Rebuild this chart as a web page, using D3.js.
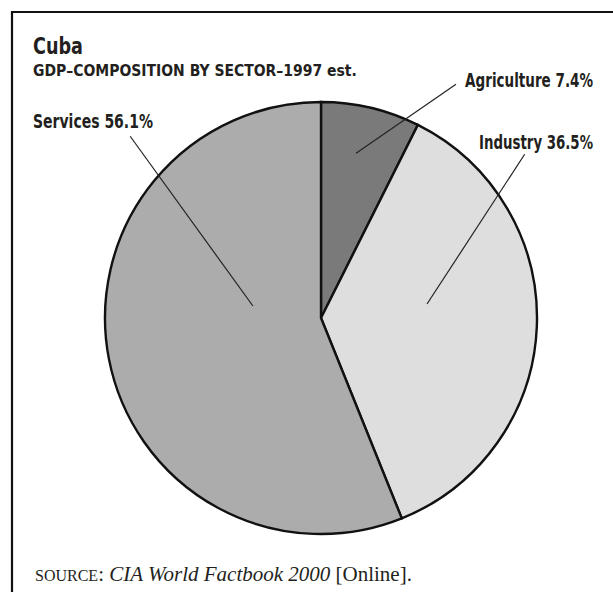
<!DOCTYPE html>
<html>
<head>
<meta charset="utf-8">
<script src="https://cdn.jsdelivr.net/npm/d3@7"></script>
<style>
  html, body { margin: 0; padding: 0; background: #fff; }
  svg { display: block; }
  .hd { font-family: "Liberation Sans Narrow", "DejaVu Sans Condensed", "Liberation Sans", Arial, sans-serif; font-weight: bold; fill: #231f20; }
  .src { font-family: "Liberation Serif", "Times New Roman", serif; fill: #231f20; }
</style>
</head>
<body>
<svg id="chart" width="613" height="592"></svg>
<script>
// GDP composition by sector, Cuba, 1997 estimate (percent)
const sectors = ["Agriculture", "Industry", "Services"];
const shares = [7.4, 36.5, 56.1];
const fills = ["#7a7a7a", "#dedede", "#acacac"];

const title = "Cuba";
const subtitle = "GDP\u2013COMPOSITION BY SECTOR\u20131997 est.";

const svg = d3.select("#chart");
const W = 613, H = 592;
const cx = 321, cy = 318, R = 216;

// squeeze a text horizontally so it spans the given width from its anchor
function fitWidth(sel, width) {
  const node = sel.node();
  const natural = node.getComputedTextLength();
  const k = width / natural;
  const x = +sel.attr("x"), y = +sel.attr("y");
  sel.attr("transform", `translate(${x},${y}) scale(${k},1) translate(${-x},${-y})`);
  return sel;
}

// frame: top and left rules
svg.append("line").attr("x1", 12).attr("y1", 12).attr("x2", W).attr("y2", 12)
  .attr("stroke", "#111").attr("stroke-width", 2.2);
svg.append("line").attr("x1", 12).attr("y1", 11).attr("x2", 12).attr("y2", H)
  .attr("stroke", "#111").attr("stroke-width", 2.2);

fitWidth(svg.append("text").attr("class", "hd").attr("x", 33).attr("y", 54)
  .attr("font-size", 23).text(title), 50);
fitWidth(svg.append("text").attr("class", "hd").attr("x", 33).attr("y", 76.5)
  .attr("font-size", 15.5).text(subtitle), 324);

const data = sectors.map((s, i) => ({ sector: s, value: shares[i], fill: fills[i] }));

const pie = d3.pie().sort(null).value(d => d.value);
const arc = d3.arc().innerRadius(0).outerRadius(R);
const arcs = pie(data);

const g = svg.append("g").attr("transform", `translate(${cx},${cy})`);

g.selectAll("path.slice").data(arcs).join("path")
  .attr("class", "slice")
  .attr("d", arc)
  .attr("fill", d => d.data.fill)
  .attr("stroke", "#111")
  .attr("stroke-width", 2.4)
  .attr("stroke-linejoin", "miter");

// label layout: leader line from inner point to outer point (polar: degrees, fraction of radius),
// then the text anchored at its own side
const labelLayout = {
  Agriculture: { inner: [12, 0.78], outer: [30, 1.25], anchor: "end",   x: 593, y: 87,  w: 128 },
  Industry:    { inner: [82.5, 0.495], outer: [51.2, 1.21], anchor: "end", x: 593, y: 149, w: 114 },
  Services:    { inner: [280, 0.32], outer: [313.6, 1.22], anchor: "start", x: 33, y: 128, w: 120 }
};
const rad = a => a * Math.PI / 180;

g.selectAll("line.leader").data(arcs).join("line")
  .attr("class", "leader")
  .each(function (d) {
    const L = labelLayout[d.data.sector];
    const p1 = d3.pointRadial(rad(L.inner[0]), L.inner[1] * R);
    const p2 = d3.pointRadial(rad(L.outer[0]), L.outer[1] * R);
    d3.select(this).attr("x1", p1[0]).attr("y1", p1[1]).attr("x2", p2[0]).attr("y2", p2[1]);
  })
  .attr("stroke", "#222").attr("stroke-width", 1.2);

const fmt = d3.format(".1f");
svg.selectAll("text.lbl").data(arcs).join("text")
  .attr("class", "hd lbl")
  .attr("font-size", 19)
  .attr("x", d => labelLayout[d.data.sector].x)
  .attr("y", d => labelLayout[d.data.sector].y)
  .attr("text-anchor", d => labelLayout[d.data.sector].anchor)
  .text(d => `${d.data.sector} ${fmt(d.data.value)}%`)
  .each(function (d) { fitWidth(d3.select(this), labelLayout[d.data.sector].w); });

// source line
const src = svg.append("text").attr("class", "src").attr("x", 35).attr("y", 581).attr("font-size", 21);
src.append("tspan").attr("font-size", 16).text("SOURCE");
src.append("tspan").text(": ");
src.append("tspan").attr("font-style", "italic").text("CIA World Factbook 2000");
src.append("tspan").text(" [Online].");
</script>
</body>
</html>
